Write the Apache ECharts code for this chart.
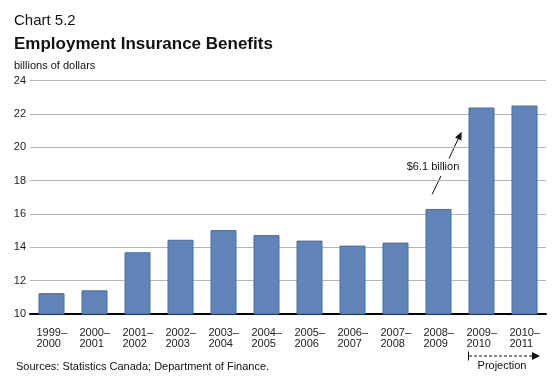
<!DOCTYPE html>
<html>
<head>
<meta charset="utf-8">
<script src="https://cdn.jsdelivr.net/npm/echarts@6/dist/echarts.min.js"></script>
<style>html,body{margin:0;padding:0;background:#fff}#c{width:560px;height:379px}</style>
</head>
<body>
<div id="c"></div>
<script>
const categories = [['1999–','2000'],['2000–','2001'],['2001–','2002'],['2002–','2003'],['2003–','2004'],['2004–','2005'],['2005–','2006'],['2006–','2007'],['2007–','2008'],['2008–','2009'],['2009–','2010'],['2010–','2011']];
const values = [11.25, 11.42, 13.7, 14.45, 15.03, 14.73, 14.4, 14.1, 14.28, 16.3, 22.38, 22.5];
const yTicks = {min: 10, max: 24, interval: 2};

const FONT = '"Liberation Sans", Arial, Helvetica, sans-serif';
const chart = echarts.init(document.getElementById('c'), null, {renderer: 'canvas'});

const txt = (x, y, s, size, weight, align) => ({
  type: 'text', x: x, y: y, silent: true,
  style: {text: s, fontFamily: FONT, fontSize: size, fontWeight: weight || 'normal', fill: '#111',
    textAlign: align || 'left', textVerticalAlign: 'middle'}
});
const ln = (x1, y1, x2, y2, dash) => ({
  type: 'line', silent: true, shape: {x1, y1, x2, y2},
  style: {stroke: '#111', lineWidth: 1, lineDash: dash || null}
});
const poly = (pts) => ({type: 'polygon', silent: true, shape: {points: pts}, style: {fill: '#111'}});

chart.setOption({
  animation: false,
  textStyle: {fontFamily: FONT},
  grid: {left: 30, right: 14, top: 80.5, bottom: 65},
  xAxis: {
    type: 'category',
    data: categories.map(c => c.join('\n')),
    axisLine: {lineStyle: {color: '#000', width: 2}},
    axisTick: {show: false},
    axisLabel: {
      interval: 0, margin: 13, color: '#222', fontSize: 11,
      formatter: v => { const p = v.split('\n'); return '{a|' + p[0] + '}\n{a|' + p[1] + '}'; },
      rich: {a: {fontSize: 11, lineHeight: 11.5, width: 30, align: 'left', color: '#222', fontFamily: FONT}}
    }
  },
  yAxis: {
    type: 'value', min: yTicks.min, max: yTicks.max, interval: yTicks.interval,
    axisLine: {show: false}, axisTick: {show: false},
    axisLabel: {margin: 4, color: '#222', fontSize: 11},
    splitLine: {lineStyle: {color: '#b5b5b5', width: 1}}
  },
  series: [{
    type: 'bar', data: values, barWidth: 26,
    itemStyle: {color: '#6183b7', borderColor: '#4170aa', borderWidth: 1}
  }],
  graphic: [
    txt(14, 21, 'Chart 5.2', 15),
    txt(14, 44, 'Employment Insurance Benefits', 17, 'bold'),
    txt(14, 66, 'billions of dollars', 11),
    txt(16, 367, 'Sources: Statistics Canada; Department of Finance.', 11),
    // annotation
    ln(432, 194.5, 441, 176),
    ln(449, 158.5, 458.2, 138.9),
    poly([[461.7, 131.7], [461.4, 140.4], [455.0, 137.4]]),
    txt(433, 167, '$6.1 billion', 11, 'normal', 'center'),
    // projection
    ln(468.5, 351.5, 468.5, 360.5),
    ln(469, 356, 532, 356, [3, 2]),
    poly([[532, 352], [540, 356], [532, 360]]),
    txt(502, 366, 'Projection', 11, 'normal', 'center')
  ]
});
</script>
</body>
</html>
